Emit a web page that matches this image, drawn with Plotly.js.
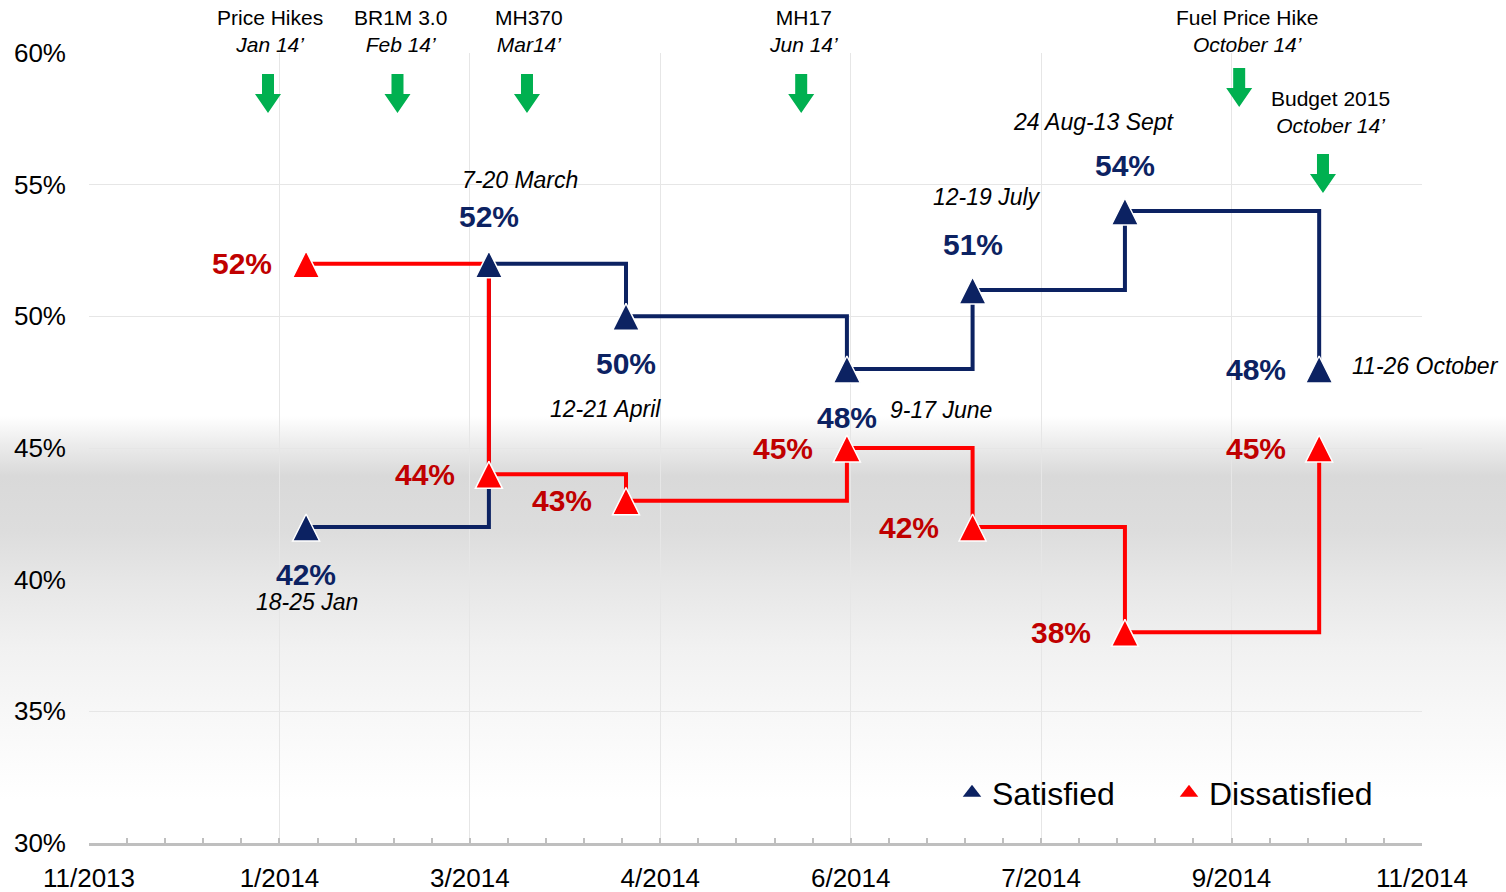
<!DOCTYPE html>
<html>
<head>
<meta charset="utf-8">
<script src="https://cdn.plot.ly/plotly-3.0.1.min.js"></script>
<style>
  html, body { margin: 0; padding: 0; background: #fff; }
  #chart { width: 1506px; height: 892px; }
</style>
</head>
<body>
<div id="chart"></div>
<script>
// Survey waves (x position = first day of each wave)
const surveyDates = ['2014-01-18', '2014-03-07', '2014-04-12', '2014-06-09', '2014-07-12', '2014-08-21', '2014-10-11'];
const surveyPeriods = ['18-25 Jan', '7-20 March', '12-21 April', '9-17 June', '12-19 July', '24 Aug-13 Sept', '11-26 October'];
const satisfied = [42, 52, 50, 48, 51, 54, 48];
const dissatisfied = [52, 44, 43, 45, 42, 38, 45];

// Events marked with green arrows above the chart
const eventNames = ['Price Hikes', 'BR1M 3.0', 'MH370', 'MH17', 'Fuel Price Hike', 'Budget 2015'];
const eventMonths = ['Jan 14\u2019', 'Feb 14\u2019', 'Mar14\u2019', 'Jun 14\u2019', 'October 14\u2019', 'October 14\u2019'];
const eventDates = ['2014-01-08', '2014-02-11', '2014-03-17', '2014-05-28', '2014-09-20', '2014-10-12'];

// x axis: Excel style date axis, 50 day major unit
const xTickVals = ['2013-11-22', '2014-01-11', '2014-03-02', '2014-04-21', '2014-06-10', '2014-07-30', '2014-09-18', '2014-11-07'];
const xTickText = ['11/2013', '1/2014', '3/2014', '4/2014', '6/2014', '7/2014', '9/2014', '11/2014'];

const NAVY = '#0c2262';
const RED = '#ff0000';
const DARKRED = '#c00000';
const GREEN = '#00b050';
const FONT = 'Liberation Sans, Arial, sans-serif';

// page pixel -> paper fraction (plot area is y 53..843)
const PLOT_TOP = 53, PLOT_H = 790;
const py = p => (PLOT_TOP + PLOT_H - p) / PLOT_H;

// label placement (pixel offsets from the point)
const satShift = [[0, -47], [0, 47], [0, -47], [0, -48], [0, 46], [0, 46], [-63, 0]];
const disShift = [[-64, 0], [-64, 0], [-64, 0], [-64, 0], [-64, 0], [-64, 0], [-63, 0]];
const periodShift = [[1, -75], [31, 84], [-21, -93], [94, -41], [14, 93], [-31, 89], [106, 3]];
const eventTextTop = [4, 4, 4, 4, 4, 85];
const eventTextShift = [2, 3, 2, 2, 8, 8];
const eventArrowTop = [74, 74, 74, 74, 68, 154];

const lineTrace = (y, color) => ({
  x: surveyDates, y: y, type: 'scatter', mode: 'lines',
  line: {color: color, width: 4, shape: 'hv'},
  showlegend: false, hoverinfo: 'skip'
});
const markerTrace = (y, color) => ({
  x: surveyDates, y: y, type: 'scatter', mode: 'markers',
  marker: {symbol: 'arrow-down', angle: 180, standoff: 13, size: 27, color: color, line: {color: '#ffffff', width: 1.5}},
  showlegend: false
});
const legendTrace = (name, color) => ({
  x: [null], y: [null], type: 'scatter', mode: 'markers', name: name,
  marker: {symbol: 'triangle-up', size: 16, color: color}
});

const data = [
  lineTrace(satisfied, NAVY),
  lineTrace(dissatisfied, RED),
  markerTrace(satisfied, NAVY),
  markerTrace(dissatisfied, RED),
  legendTrace('Satisfied', NAVY),
  legendTrace('Dissatisfied', RED)
];

const annotations = [];
surveyDates.forEach((d, i) => {
  annotations.push({
    x: d, y: satisfied[i], xref: 'x', yref: 'y', text: '<b>' + satisfied[i] + '%</b>', showarrow: false,
    xshift: satShift[i][0], yshift: satShift[i][1],
    font: {family: FONT, size: 30, color: NAVY}
  });
  annotations.push({
    x: d, y: dissatisfied[i], xref: 'x', yref: 'y', text: '<b>' + dissatisfied[i] + '%</b>', showarrow: false,
    xshift: disShift[i][0], yshift: disShift[i][1],
    font: {family: FONT, size: 30, color: DARKRED}
  });
  annotations.push({
    x: d, y: satisfied[i], xref: 'x', yref: 'y', text: '<i>' + surveyPeriods[i] + '</i>', showarrow: false,
    xshift: periodShift[i][0], yshift: periodShift[i][1],
    font: {family: FONT, size: 23, color: '#000000'}
  });
});

const shapes = [];
eventDates.forEach((d, i) => {
  annotations.push({
    x: d, y: py(eventTextTop[i]), xref: 'x', yref: 'paper', yanchor: 'top',
    text: eventNames[i] + '<br><i>' + eventMonths[i] + '</i>', showarrow: false,
    xshift: eventTextShift[i],
    font: {family: FONT, size: 21, color: '#000000'}
  });
  shapes.push({
    type: 'path', xref: 'x', yref: 'paper',
    xsizemode: 'pixel', ysizemode: 'pixel',
    xanchor: d, yanchor: py(eventArrowTop[i]),
    path: 'M-6,0 L6,0 L6,-20 L13,-20 L0,-39 L-13,-20 L-6,-20 Z',
    fillcolor: GREEN, line: {width: 0}
  });
});

// soft grey band behind the lower half of the chart
const gradSvg = "<svg xmlns='http://www.w3.org/2000/svg' width='10' height='400' viewBox='0 0 10 400' preserveAspectRatio='none'>" +
  "<defs><linearGradient id='g' x1='0' y1='0' x2='0' y2='1'>" +
  "<stop offset='0' stop-color='#ffffff'/>" +
  "<stop offset='0.04' stop-color='#ffffff'/>" +
  "<stop offset='0.11' stop-color='#ececec'/>" +
  "<stop offset='0.19' stop-color='#d9d9d9'/>" +
  "<stop offset='0.33' stop-color='#dddddd'/>" +
  "<stop offset='0.46' stop-color='#e7e7e7'/>" +
  "<stop offset='0.62' stop-color='#f1f1f1'/>" +
  "<stop offset='0.8' stop-color='#f8f8f8'/>" +
  "<stop offset='1' stop-color='#ffffff'/>" +
  "</linearGradient></defs><rect width='10' height='400' fill='url(#g)'/></svg>";

const layout = {
  width: 1506, height: 892,
  margin: {l: 89, r: 84, t: 53, b: 49, pad: 0},
  paper_bgcolor: '#ffffff',
  plot_bgcolor: 'rgba(0,0,0,0)',
  font: {family: FONT, color: '#000000'},
  images: [{
    source: 'data:image/svg+xml;charset=utf-8,' + encodeURIComponent(gradSvg),
    xref: 'paper', yref: 'paper', x: -89 / 1333, y: py(400),
    sizex: 1506 / 1333, sizey: 400 / PLOT_H,
    xanchor: 'left', yanchor: 'top', sizing: 'stretch', layer: 'below'
  }],
  xaxis: {
    type: 'date',
    range: ['2013-11-22', '2014-11-07'],
    tickmode: 'array', tickvals: xTickVals, ticktext: xTickText,
    tickfont: {family: FONT, size: 26, color: '#000000'},
    ticks: 'inside', ticklen: 5, tickwidth: 2, tickcolor: '#bfbfbf',
    ticklabelstandoff: 10,
    minor: {dtick: 864000000, tick0: '2013-11-22', ticks: 'inside', ticklen: 5, tickwidth: 2, tickcolor: '#bfbfbf', showgrid: false},
    showline: true, linecolor: '#bfbfbf', linewidth: 3,
    showgrid: true, gridcolor: '#e6e6e6', gridwidth: 1,
    zeroline: false, fixedrange: true
  },
  yaxis: {
    range: [30, 60], dtick: 5, ticksuffix: '%',
    tickfont: {family: FONT, size: 26, color: '#000000'},
    ticks: '', ticklabelstandoff: 22,
    showline: false, showgrid: true, gridcolor: '#e6e6e6', gridwidth: 1,
    zeroline: false, fixedrange: true
  },
  legend: {
    orientation: 'h', x: (952 - 89) / 1333, y: py(793), xanchor: 'left', yanchor: 'middle',
    font: {family: FONT, size: 32, color: '#000000'},
    bgcolor: 'rgba(0,0,0,0)', entrywidth: 172, traceorder: 'normal'
  },
  annotations: annotations,
  shapes: shapes,
  hovermode: false
};

Plotly.newPlot('chart', data, layout, {displayModeBar: false, staticPlot: true});
</script>
</body>
</html>
